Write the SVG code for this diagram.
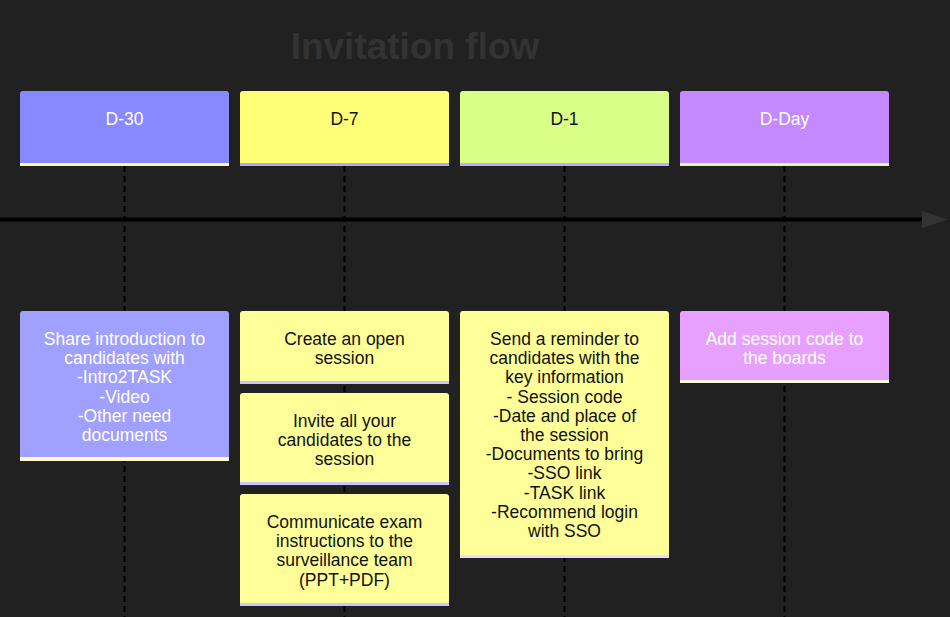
<svg xmlns="http://www.w3.org/2000/svg" width="950" height="617" viewBox="0 0 950 617">
<style>
  text { font-family: "Liberation Sans", Arial, sans-serif; font-size: 17.5px; text-anchor: middle; }
  .w { fill: #ffffff; }
  .k { fill: #111111; }
  .dash { stroke: #000000; stroke-width: 2; stroke-dasharray: 6 4; fill: none; }
  .title { font-size: 37px; font-weight: bold; fill: #333333; }
</style>
<rect x="0" y="0" width="950" height="617" fill="#212121"/>
<text class="title" x="415" y="59">Invitation flow</text>

<g id="connectors">
  <line class="dash" x1="124.5" y1="166" x2="124.5" y2="617"/>
  <line class="dash" x1="344.5" y1="166" x2="344.5" y2="617"/>
  <line class="dash" x1="564.5" y1="166" x2="564.5" y2="617"/>
  <line class="dash" x1="784.5" y1="166" x2="784.5" y2="617"/>
  <line x1="0" y1="219.5" x2="924" y2="219.5" stroke="#000000" stroke-width="4"/>
  <polygon points="922,211 948,219.5 922,228" fill="#333333"/>
</g>

<g id="h-d30">
  <rect x="20" y="91" width="209" height="75" rx="3" fill="#8888ff"/>
  <rect x="20" y="163" width="209" height="3" fill="#fff5a8"/>
  <text class="w" x="124.5" y="125">D-30</text>
</g>
<g id="h-d7">
  <rect x="240" y="91" width="209" height="75" rx="3" fill="#ffff77"/>
  <rect x="240" y="163" width="209" height="3" fill="#aaaaff"/>
  <text class="k" x="344.5" y="125">D-7</text>
</g>
<g id="h-d1">
  <rect x="460" y="91" width="209" height="75" rx="3" fill="#d9ff88"/>
  <rect x="460" y="163" width="209" height="3" fill="#cca3ff"/>
  <text class="k" x="564.5" y="125">D-1</text>
</g>
<g id="h-dday">
  <rect x="680" y="91" width="209" height="75" rx="3" fill="#c488ff"/>
  <rect x="680" y="163" width="209" height="3" fill="#d9ffaa"/>
  <text class="w" x="784.5" y="125">D-Day</text>
</g>

<g id="c-d30">
  <rect x="20" y="311" width="209" height="150" rx="3" fill="#a0a0ff"/>
  <rect x="20" y="457" width="209" height="4" fill="#fff8d0"/>
  <text class="w" x="124.5" y="345">Share introduction to</text>
  <text class="w" x="124.5" y="364.2">candidates with</text>
  <text class="w" x="124.5" y="383.4">-Intro2TASK</text>
  <text class="w" x="124.5" y="402.6">-Video</text>
  <text class="w" x="124.5" y="421.8">-Other need</text>
  <text class="w" x="124.5" y="441">documents</text>
</g>

<g id="c-d7-open">
  <rect x="240" y="311" width="209" height="73" rx="3" fill="#ffff99"/>
  <rect x="240" y="381" width="209" height="3" fill="#c8c8ff"/>
  <text class="k" x="344.5" y="345">Create an open</text>
  <text class="k" x="344.5" y="364.2">session</text>
</g>
<g id="c-d7-invite">
  <rect x="240" y="393" width="209" height="92" rx="3" fill="#ffff99"/>
  <rect x="240" y="482" width="209" height="3" fill="#c8c8ff"/>
  <text class="k" x="344.5" y="427">Invite all your</text>
  <text class="k" x="344.5" y="446.2">candidates to the</text>
  <text class="k" x="344.5" y="465.4">session</text>
</g>
<g id="c-d7-comm">
  <rect x="240" y="494" width="209" height="112" rx="3" fill="#ffff99"/>
  <rect x="240" y="603" width="209" height="3" fill="#c8c8ff"/>
  <text class="k" x="344.5" y="528">Communicate exam</text>
  <text class="k" x="344.5" y="547.2">instructions to the</text>
  <text class="k" x="344.5" y="566.4">surveillance team</text>
  <text class="k" x="344.5" y="585.6">(PPT+PDF)</text>
</g>

<g id="c-d1">
  <rect x="460" y="311" width="209" height="247" rx="3" fill="#ffff99"/>
  <rect x="460" y="555" width="209" height="3" fill="#f2d6ff"/>
  <text class="k" x="564.5" y="345">Send a reminder to</text>
  <text class="k" x="564.5" y="364.2">candidates with the</text>
  <text class="k" x="564.5" y="383.4">key information</text>
  <text class="k" x="564.5" y="402.6">- Session code</text>
  <text class="k" x="564.5" y="421.8">-Date and place of</text>
  <text class="k" x="564.5" y="441">the session</text>
  <text class="k" x="564.5" y="460.2">-Documents to bring</text>
  <text class="k" x="564.5" y="479.4">-SSO link</text>
  <text class="k" x="564.5" y="498.6">-TASK link</text>
  <text class="k" x="564.5" y="517.8">-Recommend login</text>
  <text class="k" x="564.5" y="537">with SSO</text>
</g>

<g id="c-dday">
  <rect x="680" y="311" width="209" height="72" rx="3" fill="#e8a0ff"/>
  <rect x="680" y="380" width="209" height="3" fill="#fff8d8"/>
  <text class="w" x="784.5" y="345">Add session code to</text>
  <text class="w" x="784.5" y="364.2">the boards</text>
</g>
</svg>
